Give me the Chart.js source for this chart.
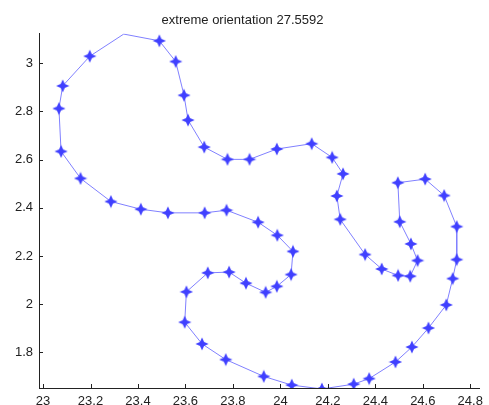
<!DOCTYPE html>
<html>
<head>
<meta charset="utf-8">
<script src="https://cdn.jsdelivr.net/npm/chart.js@4"></script>
<style>
  html, body { margin: 0; padding: 0; background: #fff; }
  #wrap { width: 489px; height: 405px; }
</style>
</head>
<body>
<div id="wrap"><canvas id="plot" width="489" height="405"></canvas></div>
<script>
  "use strict";

  // closed contour (first point repeated at the end)
  const xs = [
    23.340, 23.490, 23.559, 23.594, 23.611, 23.679, 23.777, 23.870, 23.985, 24.132,
    24.218, 24.264, 24.238, 24.252, 24.357, 24.427, 24.496, 24.547, 24.578, 24.550,
    24.503, 24.495, 24.610, 24.690, 24.743, 24.743, 24.726, 24.699, 24.624, 24.554,
    24.485, 24.374, 24.309, 24.175, 24.048, 23.930, 23.770, 23.670, 23.597, 23.604,
    23.694, 23.784, 23.855, 23.938, 23.985, 24.045, 24.053, 23.987, 23.906, 23.773,
    23.681, 23.526, 23.412, 23.286, 23.158, 23.076, 23.067, 23.083, 23.197, 23.340
  ];
  const ys = [
    3.121, 3.093, 3.007, 2.867, 2.764, 2.652, 2.601, 2.601, 2.644, 2.666,
    2.609, 2.541, 2.449, 2.352, 2.206, 2.146, 2.119, 2.116, 2.181, 2.250,
    2.342, 2.504, 2.519, 2.451, 2.322, 2.185, 2.106, 1.997, 1.901, 1.822,
    1.760, 1.691, 1.668, 1.648, 1.664, 1.700, 1.770, 1.835, 1.925, 2.051,
    2.130, 2.133, 2.087, 2.049, 2.074, 2.123, 2.219, 2.286, 2.340, 2.390,
    2.379, 2.379, 2.394, 2.426, 2.522, 2.634, 2.812, 2.906, 3.029, 3.121
  ];

  const xTicks = [23, 23.2, 23.4, 23.6, 23.8, 24, 24.2, 24.4, 24.6, 24.8];
  const yTicks = [1.8, 2, 2.2, 2.4, 2.6, 2.8, 3];

  const titleText = "extreme orientation 27.5592";

  // four-pointed star marker with a fat core
  function makeStar(color) {
    const c = document.createElement("canvas");
    c.width = 14;
    c.height = 14;
    const g = c.getContext("2d");
    const cx = 7, cy = 7, outer = 6.6, inner = 2.9;
    g.beginPath();
    for (let i = 0; i < 8; i++) {
      const r = i % 2 === 0 ? outer : inner;
      const a = -Math.PI / 2 + i * Math.PI / 4;
      const px = cx + r * Math.cos(a);
      const py = cy + r * Math.sin(a);
      if (i === 0) g.moveTo(px, py); else g.lineTo(px, py);
    }
    g.closePath();
    g.fillStyle = color;
    g.fill();
    return c;
  }

  const star = makeStar("#4040ff");

  // MATLAB-style ticks pointing into the axes
  const inwardTicks = {
    id: "inwardTicks",
    afterDraw(chart) {
      const { ctx, chartArea, scales } = chart;
      ctx.save();
      ctx.strokeStyle = "#222";
      ctx.lineWidth = 1;
      ctx.beginPath();
      xTicks.forEach((v) => {
        const px = Math.round(scales.x.getPixelForValue(v)) + 0.5;
        ctx.moveTo(px, chartArea.bottom);
        ctx.lineTo(px, chartArea.bottom - 4);
      });
      yTicks.forEach((v) => {
        const py = Math.round(scales.y.getPixelForValue(v)) + 0.5;
        ctx.moveTo(chartArea.left, py);
        ctx.lineTo(chartArea.left + 4, py);
      });
      ctx.stroke();
      ctx.restore();
    }
  };

  const points = xs.map((x, i) => ({ x, y: ys[i] }));
  // the topmost vertex carries no visible marker in the original
  const radii = xs.map((_, i) => (i === 0 || i === xs.length - 1 ? 0 : 6));

  new Chart(document.getElementById("plot"), {
    type: "scatter",
    data: {
      datasets: [
        {
          data: points,
          showLine: true,
          borderColor: "#8080ff",
          borderWidth: 1,
          pointStyle: star,
          pointRadius: radii,
          backgroundColor: "#4040ff",
          tension: 0
        }
      ]
    },
    options: {
      responsive: false,
      animation: false,
      devicePixelRatio: 1,
      layout: { padding: { left: 0, right: 4, top: 0, bottom: 0 } },
      plugins: {
        legend: { display: false },
        tooltip: { enabled: false },
        title: {
          display: true,
          text: titleText,
          color: "#222",
          font: { family: "Liberation Sans, Arial, sans-serif", size: 13, weight: "normal" },
          padding: { top: 13, bottom: 5 }
        }
      },
      scales: {
        x: {
          type: "linear",
          min: 22.983,
          max: 24.84,
          afterBuildTicks: (s) => { s.ticks = xTicks.map((v) => ({ value: v })); },
          afterFit: (s) => { s.height = 17; },
          grid: { display: false, drawTicks: false },
          border: { display: true, color: "#222", width: 1 },
          ticks: {
            padding: 6,
            maxRotation: 0,
            autoSkip: false,
            color: "#222",
            font: { family: "Liberation Sans, Arial, sans-serif", size: 13 },
            callback: (v) => String(v)
          }
        },
        y: {
          type: "linear",
          min: 1.652,
          max: 3.123,
          afterBuildTicks: (s) => { s.ticks = yTicks.map((v) => ({ value: v })); },
          afterFit: (s) => { s.width = 39; },
          grid: { display: false, drawTicks: false },
          border: { display: true, color: "#222", width: 1 },
          ticks: {
            padding: 6,
            autoSkip: false,
            color: "#222",
            font: { family: "Liberation Sans, Arial, sans-serif", size: 13 },
            callback: (v) => String(v)
          }
        }
      }
    },
    plugins: [inwardTicks]
  });
</script>
</body>
</html>
